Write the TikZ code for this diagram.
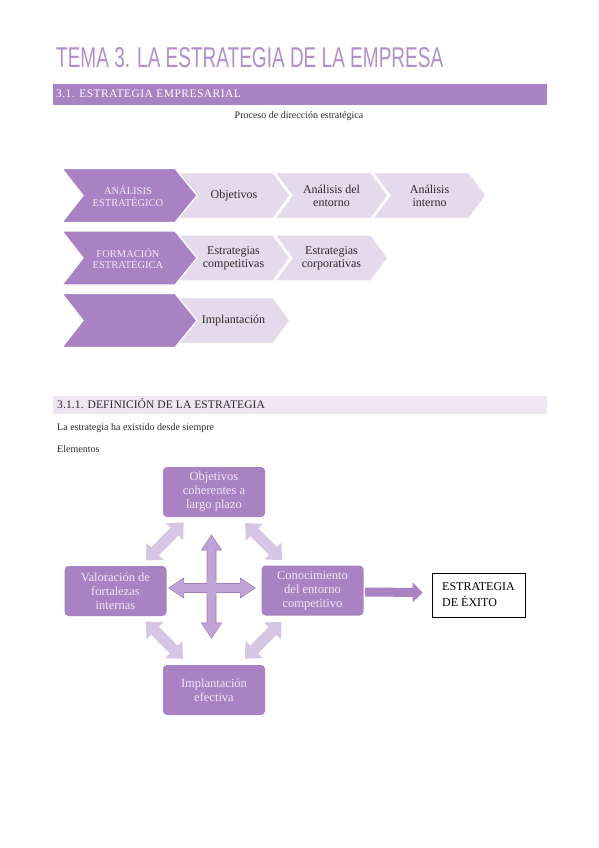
\documentclass[tikz,border=0pt]{standalone}
\usepackage{fontspec}
\setmainfont{Liberation Serif}
\newfontfamily\titlefont{Liberation Sans}
\usepackage{graphicx}
\usetikzlibrary{calc}
\definecolor{purpA}{HTML}{A982C4}
\definecolor{titlecol}{HTML}{B28ED0}
\definecolor{lightchev}{HTML}{E4DAEC}
\definecolor{barlight}{HTML}{EEE6F3}
\definecolor{crossfill}{HTML}{BFA2D6}
\definecolor{crossline}{HTML}{A47EC1}
\definecolor{diagfill}{HTML}{D6C6E3}
\definecolor{paletext}{HTML}{F1E9F6}
\definecolor{darkgray}{HTML}{2B2B2B}

% chevron: style, left x, top-right x, tip x, centre y, half height, notch depth
\newcommand\chevshape[7]{\path[#1] (#2,{#5-#6}) -- (#3,{#5-#6}) -- (#4,#5) -- (#3,{#5+#6}) -- (#2,{#5+#6}) -- ({#2+#7},#5) -- cycle;}
% double block arrow: style, A, B, shaft half, head half, head length
\newcommand\dblarrow[6]{%
 \coordinate (daA) at ($(#2)!#6!(#3)$);
 \coordinate (daB) at ($(#3)!#6!(#2)$);
 \path[#1] (#2) -- ($(daA)!#5!90:(#3)$) -- ($(daA)!#4!90:(#3)$) -- ($(daB)!#4!90:(#3)$) -- ($(daB)!#5!90:(#3)$) -- (#3) -- ($(daB)!#5!-90:(#3)$) -- ($(daB)!#4!-90:(#3)$) -- ($(daA)!#4!-90:(#3)$) -- ($(daA)!#5!-90:(#3)$) -- cycle;}
% single block arrow
\newcommand\sglarrow[6]{%
 \coordinate (saB) at ($(#3)!#6!(#2)$);
 \path[#1] ($(#2)!#4!90:(#3)$) -- ($(saB)!#4!90:(#3)$) -- ($(saB)!#5!90:(#3)$) -- (#3) -- ($(saB)!#5!-90:(#3)$) -- ($(saB)!#4!-90:(#3)$) -- ($(#2)!#4!-90:(#3)$) -- cycle;}

\tikzset{
 chevdarkfill/.style={fill=purpA, draw=white, line width=1.2pt, line join=miter},
 chevlightfill/.style={fill=lightchev, draw=white, line width=1.2pt, line join=miter},
 chevdark/.style={text=paletext, align=center, font=\fontsize{10.5}{11.5}\selectfont, inner sep=0pt},
 chevlight/.style={text=darkgray, align=center, font=\fontsize{12}{12.5}\selectfont, inner sep=0pt},
 elbox/.style={fill=purpA, rounded corners=4pt, text=paletext, align=center, font=\fontsize{12.5}{14}\selectfont, minimum width=102pt, minimum height=50pt, inner sep=2pt},
 crossarrow/.style={fill=crossfill, draw=crossline, line width=0.6pt, line join=miter},
 diagarrow/.style={fill=diagfill},
 plaintext/.style={anchor=base west, inner sep=0pt, text=darkgray, font=\fontsize{10}{12}\selectfont}
}

\begin{document}
\begin{tikzpicture}[x=1pt,y=-1pt]
\useasboundingbox (0,0) rectangle (599,848);
\fill[white] (0,0) rectangle (599,848);

% title
\node[anchor=base west, inner sep=0pt, text=titlecol] (title) at (56,68)
  {\resizebox{387pt}{20pt}{\titlefont TEMA 3. LA ESTRATEGIA DE LA EMPRESA}};

% section bar 1
\fill[purpA] (53,84) rectangle (547,105);
\node[anchor=base west, inner sep=0pt, text=white, font=\fontsize{11.5}{13}\selectfont\addfontfeature{LetterSpace=4}] (h1) at (56,98) {3.1. ESTRATEGIA EMPRESARIAL};

\node[anchor=base, inner sep=0pt, text=darkgray, font=\fontsize{10}{12}\selectfont] (proc) at (299,118) {Proceso de dirección estratégica};

% chevrons row 1
\chevshape{chevlightfill}{373}{469}{486}{195.5}{23}{17}
\chevshape{chevlightfill}{275}{371}{388}{195.5}{23}{17}
\chevshape{chevlightfill}{177}{273}{290}{195.5}{23}{17}
\chevshape{chevdarkfill}{62}{175}{197}{195.5}{27}{21}
\node[chevdark] (r1a) at (128,196) {ANÁLISIS\\ESTRATÉGICO};
\node[chevlight] (r1b) at (234,196) {Objetivos};
\node[chevlight] (r1c) at (331.5,196) {Análisis del\\entorno};
\node[chevlight] (r1d) at (429.5,196) {Análisis\\interno};

% chevrons row 2
\chevshape{chevlightfill}{275}{371}{388}{258}{23}{17}
\chevshape{chevlightfill}{177}{273}{290}{258}{23}{17}
\chevshape{chevdarkfill}{62}{175}{197}{258}{27}{21}
\node[chevdark] (r2a) at (128,258.5) {FORMACIÓN\\ESTRATÉGICA};
\node[chevlight] (r2b) at (233.5,258.5) {Estrategias\\competitivas};
\node[chevlight] (r2c) at (331.5,258.5) {Estrategias\\corporativas};

% chevrons row 3
\chevshape{chevlightfill}{177}{273}{290}{320.5}{23}{17}
\chevshape{chevdarkfill}{62}{175}{197}{320.5}{27}{21}
\node[chevlight] (r3b) at (233.5,321) {Implantación};

% section bar 2
\fill[barlight] (53,396) rectangle (547,414);
\node[anchor=base west, inner sep=0pt, text=darkgray, font=\fontsize{11.5}{13}\selectfont\addfontfeature{LetterSpace=1}] (h2) at (57,408.5) {3.1.1. DEFINICIÓN DE LA ESTRATEGIA};

\node[plaintext] (p1) at (57,430) {La estrategia ha existido desde siempre};
\node[plaintext] (p2) at (57,452) {Elementos};

% element boxes
\node[elbox] (top) at (214,492) {Objetivos\\coherentes a\\largo plazo};
\node[elbox] (left) at (115.5,591) {Valoración de\\fortalezas\\internas};
\node[elbox] (right) at (312.5,590.5) {Conocimiento\\del entorno\\competitivo};
\node[elbox] (bottom) at (214,690) {Implantación\\efectiva};
\node[draw=black, line width=0.8pt, fill=white, minimum width=93pt, minimum height=44pt, align=left, text=black, font=\fontsize{12}{16}\selectfont] (exito) at (478.5,595) {ESTRATEGIA\\DE ÉXITO};

% diagonal arrows
\coordinate (dTLa) at ($(top)!43pt!(left)$);
\coordinate (dTLb) at ($(left)!43pt!(top)$);
\coordinate (dTRa) at ($(top)!44pt!(right)$);
\coordinate (dTRb) at ($(right)!43pt!(top)$);
\coordinate (dBLa) at ($(bottom)!44pt!(left)$);
\coordinate (dBLb) at ($(left)!43pt!(bottom)$);
\coordinate (dBRa) at ($(bottom)!44pt!(right)$);
\coordinate (dBRb) at ($(right)!44pt!(bottom)$);
\dblarrow{diagarrow}{dTLa}{dTLb}{5.5pt}{12pt}{13pt}
\dblarrow{diagarrow}{dTRa}{dTRb}{5.5pt}{12pt}{13pt}
\dblarrow{diagarrow}{dBLa}{dBLb}{5.5pt}{12pt}{13pt}
\dblarrow{diagarrow}{dBRa}{dBRb}{5.5pt}{12pt}{13pt}

% cross arrows
\coordinate (cvA) at ($(top)+(-2.5,43)$);
\coordinate (cvB) at ($(bottom)+(-2.5,-52)$);
\coordinate (chA) at ($(left.east)+(2,-3)$);
\coordinate (chB) at ($(right.west)+(-6,-2.5)$);
\dblarrow{crossarrow}{cvA}{cvB}{4.5pt}{10pt}{15pt}
\dblarrow{crossarrow}{chA}{chB}{4.5pt}{10pt}{15pt}
\fill[crossfill] ($(cvA)!0.5!(cvB)+(-4.2,-8)$) rectangle ($(cvA)!0.5!(cvB)+(4.2,8)$);

% arrow to ESTRATEGIA DE EXITO
\coordinate (raS) at ($(right.east)+(1.5,1.5)$);
\coordinate (raE) at ($(exito.west)+(-9,-2.5)$);
\sglarrow{fill=purpA}{raS}{raE}{4.5pt}{10pt}{10pt}
\end{tikzpicture}
\end{document}
